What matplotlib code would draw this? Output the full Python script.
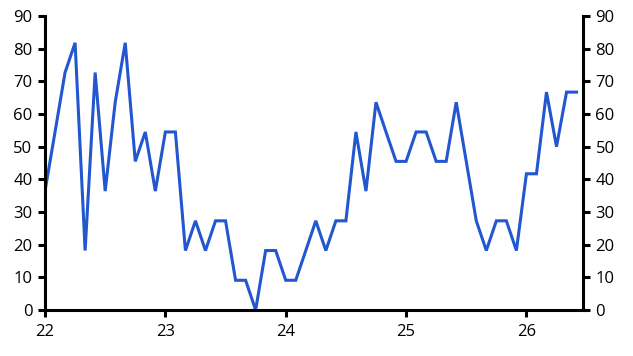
import numpy as np
import matplotlib
matplotlib.use("Agg")
import matplotlib.pyplot as plt

plt.rcParams['font.family'] = ['Open Sans', 'DejaVu Sans']

# monthly readings, Jan 2022 to Jun 2026
values = [36.4, 54.5, 72.7, 81.8, 18.2, 72.7, 36.4, 63.6, 81.8, 45.5, 54.5, 36.4,
          54.5, 54.5, 18.2, 27.3, 18.2, 27.3, 27.3, 9.1, 9.1, 0.0, 18.2, 18.2,
          9.1, 9.1, 18.2, 27.3, 18.2, 27.3, 27.3, 54.5, 36.4, 63.6, 54.5, 45.5,
          45.5, 54.5, 54.5, 45.5, 45.5, 63.6, 45.5, 27.3, 18.2, 27.3, 27.3, 18.2,
          41.7, 41.7, 66.7, 50.0, 66.7, 66.7]
start_year = 22
year_ticks = [22, 23, 24, 25, 26]
y_ticks = list(range(0, 91, 10))

x = start_year + np.arange(len(values)) / 12

fig = plt.figure(figsize=(6.33, 3.56), dpi=100)
ax = fig.add_axes([45 / 633, 1 - 310 / 356, (583 - 45) / 633, (310 - 16) / 356])
ax.plot(x, values, color='#2257cf', linewidth=2.2, solid_joinstyle='miter')

ax.set_xlim(22, 26.47)
ax.set_ylim(0, 90)
ax.set_xticks(year_ticks)
ax.set_xticklabels([str(y) for y in year_ticks])
ax.set_yticks(y_ticks)

ax.spines['top'].set_visible(False)
for s in ['left', 'right', 'bottom']:
    ax.spines[s].set_linewidth(2.2)

ax.tick_params(axis='both', which='major', labelsize=12, width=2.2, length=5,
               direction='out', color='black')
ax.tick_params(axis='y', left=True, right=True, labelleft=True, labelright=True, pad=4)
ax.tick_params(axis='x', pad=5)

fig.savefig('out.png', dpi=100)
